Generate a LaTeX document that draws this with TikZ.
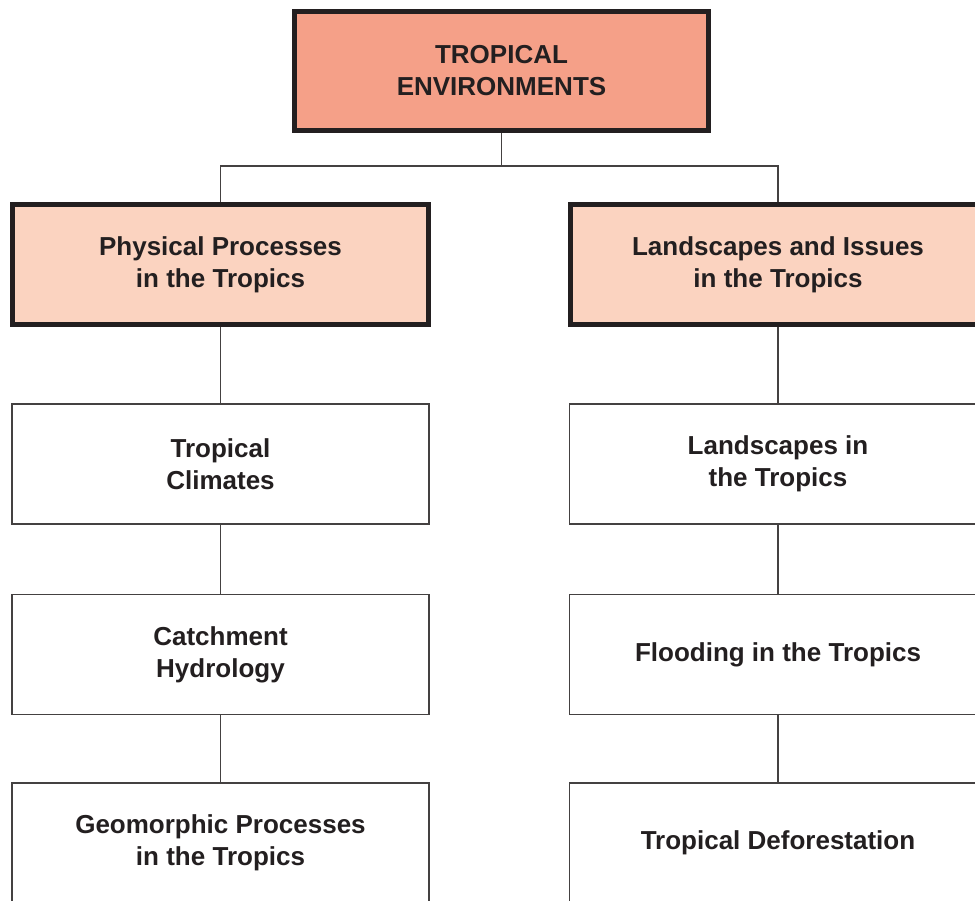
\documentclass[tikz,border=0pt]{standalone}
\usepackage{fontspec}
\setmainfont{Liberation Sans}
\definecolor{inkc}{HTML}{231F20}
\definecolor{topfill}{HTML}{F5A088}
\definecolor{midfill}{HTML}{FBD3C0}
\tikzset{
  x=1pt, y=-1pt,
  lbl/.style={align=center, text=inkc, font=\fontsize{26}{32}\selectfont\bfseries, inner sep=0pt},
  topbox/.style={lbl, draw=inkc, line width=5pt, fill=topfill, minimum width=414pt, minimum height=119pt},
  midbox/.style={lbl, draw=inkc, line width=5pt, fill=midfill, minimum width=416pt, minimum height=120pt},
  leafbox/.style={lbl, draw=inkc!85, line width=1.3pt, fill=white, minimum width=417pt, minimum height=120pt},
  link/.style={draw=inkc!85, line width=1.3pt}
}
\begin{document}
\begin{tikzpicture}
\useasboundingbox (0,0) rectangle (975,901);
\clip (0,0) rectangle (975,901);
\node[topbox] (top) at (501.5,71) {TROPICAL\\ENVIRONMENTS};
\node[midbox] (pp) at (220.5,264.5) {Physical Processes\\in the Tropics};
\node[midbox] (li) at (778,264.5) {Landscapes and Issues\\in the Tropics};
\node[leafbox] (tc) at (220.5,464) {Tropical\\Climates};
\node[leafbox] (ch) at (220.5,654.5) {Catchment\\Hydrology};
\node[leafbox] (gp) at (220.5,843) {Geomorphic Processes\\in the Tropics};
\node[leafbox] (lt) at (778,464) {Landscapes in\\the Tropics};
\node[leafbox] (ft) at (778,654.5) {Flooding in the Tropics};
\node[leafbox] (td) at (778,843) {Tropical Deforestation};
\coordinate (jn) at (501.5,166);
\draw[link] (top.south) -- (jn);
\draw[link] (pp.north) |- (jn) -| (li.north);
\draw[link] (pp.south) -- (tc.north);
\draw[link] (tc.south) -- (ch.north);
\draw[link] (ch.south) -- (gp.north);
\draw[link] (li.south) -- (lt.north);
\draw[link] (lt.south) -- (ft.north);
\draw[link] (ft.south) -- (td.north);
\end{tikzpicture}
\end{document}
